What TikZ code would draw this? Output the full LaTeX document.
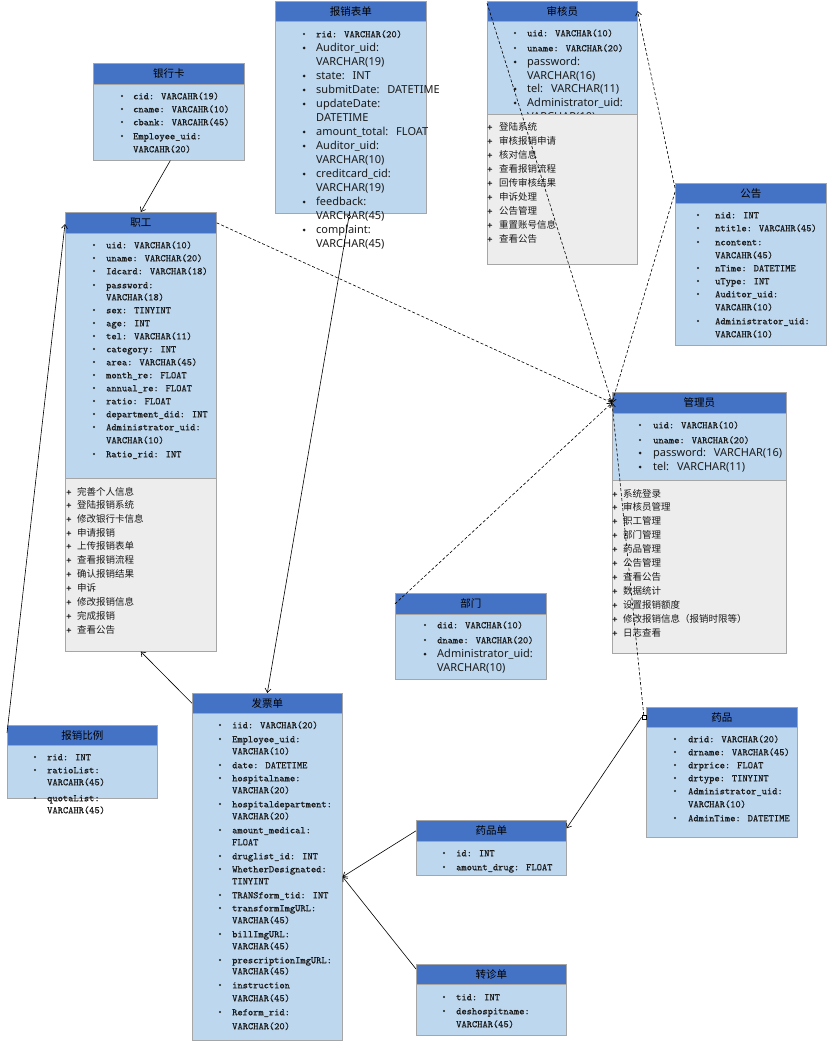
\documentclass[tikz,border=0pt]{standalone}
\usepackage{fontspec}
\setmainfont{Noto Sans}
\newfontfamily\cjk{Noto Sans CJK SC}
\newfontfamily\sansf{Noto Sans}
\newfontfamily\monof{lmmono10-regular.otf}[FakeBold=0.5]
\usetikzlibrary{arrows.meta}
\definecolor{hdrblue}{HTML}{4472C4}
\definecolor{attblue}{HTML}{BDD7EE}
\definecolor{mthgray}{HTML}{EDEDED}
\definecolor{bord}{HTML}{A6A6A6}
\definecolor{txt}{HTML}{1A1A1A}
\newcounter{tn}
\newcommand\Ent[7]{%
  \node[hdr, minimum width={(#4-#2)*1pt}, minimum height={(#5-#3)*1pt}, anchor=north west] (#1-h) at (#2,#3) {#7};
  \node[att, minimum width={(#4-#2)*1pt}, minimum height={(#6-#5)*1pt}, anchor=north west] (#1-a) at (#2,#5) {};}
\newcommand\Meth[5]{%
  \node[mth, minimum width={(#4-#2)*1pt}, minimum height={(#5-#3)*1pt}, anchor=north west] (#1-m) at (#2,#3) {};}
\newcommand\Bl[3]{\fill[txt] (#1,#2) circle (#3);}
\newcommand\Tx[4]{\stepcounter{tn}\node[#1] (t\arabic{tn}) at (#2,#3) {#4};}
\newcommand\Mb[4]{\Bl{#1}{#3}{1.1pt}\Tx{mono}{#2}{#3}{#4}}
\newcommand\Mc[3]{\Tx{mono}{#1}{#2}{#3}}
\newcommand\Sb[4]{\Bl{#1}{#3}{1.5pt}\Tx{sns}{#2}{#3}{#4}}
\newcommand\Sc[3]{\Tx{sns}{#1}{#2}{#3}}
\newcommand\Mt[4]{\Tx{mono}{#1}{#3}{+}\Tx{cn}{#2}{#3}{#4}}
\newcommand\fc{:\hspace{0.72em}}
\begin{document}
\begin{tikzpicture}[x=1pt,y=-1pt,
  hdr/.style={draw=bord, fill=hdrblue, line width=0.6pt, inner sep=0pt, font=\cjk\fontsize{10.5}{12}\selectfont, text=black},
  att/.style={draw=bord, fill=attblue, line width=0.6pt, inner sep=0pt},
  mth/.style={draw=bord, fill=mthgray, line width=0.6pt, inner sep=0pt},
  mono/.style={anchor=base west, inner sep=0pt, font=\monof\fontsize{10}{12}\selectfont, text=txt, yshift=-3.3pt},
  sns/.style={anchor=base west, inner sep=0pt, font=\sansf\fontsize{11}{13}\selectfont, text=txt, yshift=-3.9pt},
  cn/.style={anchor=base west, inner sep=0pt, font=\cjk\fontsize{9.5}{11}\selectfont, text=txt, yshift=-3.4pt},
  conn/.style={draw=black, line width=0.6pt, -{Straight Barb[length=4pt,width=6pt]}},
  dconn/.style={draw=black, line width=0.6pt, dash pattern=on 3pt off 2pt, -{Straight Barb[length=4pt,width=6pt]}}]
\fill[white] (0,0) rectangle (828,1046);
\useasboundingbox (0,0) rectangle (828,1046);

% 银行卡
\Ent{yhk}{93}{63}{244}{84}{160}{银行卡}
\Mb{122}{133}{96}{cid: VARCAHR(19)}
\Mb{122}{133}{109}{cname: VARCAHR(10)}
\Mb{122}{133}{122}{cbank: VARCAHR(45)}
\Mb{122}{133}{136}{Employee\_uid:}
\Mc{133}{149}{VARCAHR(20)}

% 报销表单
\Ent{bxbd}{275}{1}{426}{21}{213}{报销表单}
\Mb{304}{316}{34}{rid: VARCHAR(20)}
\Sb{304}{316}{48}{Auditor\_uid:}
\Sc{316}{62}{VARCHAR(19)}
\Sb{304}{316}{76}{state\fc INT}
\Sb{304}{316}{90}{submitDate\fc DATETIME}
\Sb{304}{316}{104}{updateDate:}
\Sc{316}{118}{DATETIME}
\Sb{304}{316}{132}{amount\_total\fc FLOAT}
\Sb{304}{316}{146}{Auditor\_uid:}
\Sc{316}{160}{VARCHAR(10)}
\Sb{304}{316}{174}{creditcard\_cid:}
\Sc{316}{188}{VARCHAR(19)}
\Sb{304}{316}{202}{feedback:}
\Sc{316}{216}{VARCHAR(45)}
\Sb{304}{316}{230}{complaint:}
\Sc{316}{244}{VARCHAR(45)}

% 审核员
\Ent{shy}{487}{1}{637}{21}{114}{审核员}
\Mb{515}{527}{33}{uid: VARCHAR(10)}
\Mb{515}{527}{48}{uname: VARCHAR(20)}
\Sb{515}{527}{62}{password:}
\Sc{527}{76}{VARCHAR(16)}
\Sb{515}{527}{89}{tel\fc VARCHAR(11)}
\Sb{515}{527}{103}{Administrator\_uid:}
\Sc{527}{117}{VARCHAR(10)}
\Meth{shy}{487}{114}{637}{264}
\Mt{487}{499}{127}{登陆系统}
\Mt{487}{499}{141}{审核报销申请}
\Mt{487}{499}{155}{核对信息}
\Mt{487}{499}{169}{查看报销流程}
\Mt{487}{499}{183}{回传审核结果}
\Mt{487}{499}{197}{申诉处理}
\Mt{487}{499}{211}{公告管理}
\Mt{487}{499}{225}{重置账号信息}
\Mt{487}{499}{239}{查看公告}

% 公告
\Ent{gg}{675}{183}{826}{203}{345}{公告}
\Mb{698}{715}{215}{nid: INT}
\Mb{698}{715}{228}{ntitle: VARCAHR(45)}
\Mb{698}{715}{242}{ncontent:}
\Mc{715}{255}{VARCAHR(45)}
\Mb{698}{715}{268}{nTime: DATETIME}
\Mb{698}{715}{281}{uType: INT}
\Mb{698}{715}{294}{Auditor\_uid:}
\Mc{715}{307}{VARCAHR(10)}
\Mb{698}{715}{321}{Administrator\_uid:}
\Mc{715}{334}{VARCAHR(10)}

% 职工
\Ent{zg}{65}{212}{216}{233}{478}{职工}
\Mb{94}{106}{245}{uid: VARCHAR(10)}
\Mb{94}{106}{258}{uname: VARCHAR(20)}
\Mb{94}{106}{271}{Idcard: VARCHAR(18)}
\Mb{94}{106}{285}{password:}
\Mc{106}{297}{VARCHAR(18)}
\Mb{94}{106}{310}{sex: TINYINT}
\Mb{94}{106}{323}{age: INT}
\Mb{94}{106}{336}{tel: VARCHAR(11)}
\Mb{94}{106}{349}{category: INT}
\Mb{94}{106}{362}{area: VARCHAR(45)}
\Mb{94}{106}{375}{month\_re: FLOAT}
\Mb{94}{106}{388}{annual\_re: FLOAT}
\Mb{94}{106}{401}{ratio: FLOAT}
\Mb{94}{106}{414}{department\_did: INT}
\Mb{94}{106}{427}{Administrator\_uid:}
\Mc{106}{440}{VARCHAR(10)}
\Mb{94}{106}{454}{Ratio\_rid: INT}
\Meth{zg}{65}{478}{216}{651}
\Mt{66}{77}{492}{完善个人信息}
\Mt{66}{77}{505}{登陆报销系统}
\Mt{66}{77}{519}{修改银行卡信息}
\Mt{66}{77}{533}{申请报销}
\Mt{66}{77}{546}{上传报销表单}
\Mt{66}{77}{560}{查看报销流程}
\Mt{66}{77}{574}{确认报销结果}
\Mt{66}{77}{588}{申诉}
\Mt{66}{77}{602}{修改报销信息}
\Mt{66}{77}{616}{完成报销}
\Mt{66}{77}{630}{查看公告}

% 管理员
\Ent{gly}{612}{392}{786}{413}{480}{管理员}
\Mb{640}{653}{425}{uid: VARCHAR(10)}
\Mb{640}{653}{440}{uname: VARCHAR(20)}
\Sb{640}{653}{453}{password\fc VARCHAR(16)}
\Sb{640}{653}{467}{tel\fc VARCHAR(11)}
\Meth{gly}{612}{480}{786}{653}
\Mt{612}{623}{494}{系统登录}
\Mt{612}{623}{507}{审核员管理}
\Mt{612}{623}{521}{职工管理}
\Mt{612}{623}{535}{部门管理}
\Mt{612}{623}{549}{药品管理}
\Mt{612}{623}{563}{公告管理}
\Mt{612}{623}{577}{查看公告}
\Mt{612}{623}{591}{数据统计}
\Mt{612}{623}{605}{设置报销额度}
\Mt{612}{623}{619}{修改报销信息（报销时限等）}
\Mt{612}{623}{633}{日志查看}

% 部门
\Ent{bm}{395}{593}{546}{614}{679}{部门}
\Mb{425}{437}{625}{did: VARCHAR(10)}
\Mb{425}{437}{640}{dname: VARCHAR(20)}
\Sb{425}{437}{654}{Administrator\_uid:}
\Sc{437}{668}{VARCHAR(10)}

% 药品
\Ent{yp}{646}{707}{797}{727}{837}{药品}
\Mb{675}{688}{739}{drid: VARCHAR(20)}
\Mb{675}{688}{752}{drname: VARCHAR(45)}
\Mb{675}{688}{765}{drprice: FLOAT}
\Mb{675}{688}{778}{drtype: TINYINT}
\Mb{675}{688}{791}{Administrator\_uid:}
\Mc{688}{804}{VARCHAR(10)}
\Mb{675}{688}{818}{AdminTime: DATETIME}

% 发票单
\Ent{fpd}{192}{693}{342}{713}{1040}{发票单}
\Mb{220}{232}{725}{iid: VARCHAR(20)}
\Mb{220}{232}{739}{Employee\_uid:}
\Mc{232}{751}{VARCHAR(10)}
\Mb{220}{232}{765}{date: DATETIME}
\Mb{220}{232}{778}{hospitalname:}
\Mc{232}{790}{VARCHAR(20)}
\Mb{220}{232}{804}{hospitaldepartment:}
\Mc{232}{816}{VARCHAR(20)}
\Mb{220}{232}{830}{amount\_medical:}
\Mc{232}{842}{FLOAT}
\Mb{220}{232}{856}{druglist\_id: INT}
\Mb{220}{232}{869}{WhetherDesignated:}
\Mc{232}{881}{TINYINT}
\Mb{220}{232}{895}{TRANSform\_tid: INT}
\Mb{220}{232}{908}{transformImgURL:}
\Mc{232}{920}{VARCHAR(45)}
\Mb{220}{232}{934}{billImgURL:}
\Mc{232}{946}{VARCHAR(45)}
\Mb{220}{232}{960}{prescriptionImgURL:}
\Mc{232}{971}{VARCHAR(45)}
\Mb{220}{232}{985}{instruction}
\Mc{232}{998}{VARCHAR(45)}
\Mb{220}{232}{1012}{Reform\_rid:}
\Mc{232}{1026}{VARCHAR(20)}

% 报销比例
\Ent{bxbl}{7}{725}{157}{745}{798}{报销比例}
\Mb{35}{47}{757}{rid: INT}
\Mb{35}{47}{770}{ratioList:}
\Mc{47}{782}{VARCAHR(45)}
\Mb{35}{47}{798}{quotaList:}
\Mc{47}{810}{VARCAHR(45)}

% 药品单
\Ent{ypd}{416}{820}{566}{841}{875}{药品单}
\Mb{444}{456}{853}{id: INT}
\Mb{444}{456}{867}{amount\_drug: FLOAT}

% 转诊单
\Ent{zzd}{416}{964}{566}{984}{1035}{转诊单}
\Mb{444}{456}{997}{tid: INT}
\Mb{444}{456}{1011}{deshospitname:}
\Mc{456}{1024}{VARCHAR(45)}

% connectors
\node[draw=black, fill=white, line width=0.5pt, minimum size=4pt, inner sep=0pt, anchor=east] (sq) at (yp-h.west) {};
\draw[conn] ([xshift=1.5pt]yhk-a.south) -- (zg-h.north);
\draw[conn] ([yshift=-8pt]bxbl-h.north west) -- ([yshift=-12pt]zg-h.north west);
\draw[dconn] (zg-h.east) -- (gly-h.west);
\draw[dconn] ([yshift=-2pt]shy-h.north west) -- (gly-h.west);
\draw[dconn] ([yshift=-9pt]gg-h.north west) -- (gly-h.west);
\draw[dconn] ([yshift=-5pt]gg-h.north west) -- ([yshift=-10pt]shy-h.north east);
\draw[dconn] (bm-h.west) -- (gly-h.west);
\draw[dconn] (sq.north) -- (gly-h.west);
\draw[conn] (sq.west) -- ([yshift=2.5pt]ypd-h.east);
\draw[conn] (ypd-h.west) -- (fpd-a.east);
\draw[conn] ([yshift=-5pt]zzd-h.north west) -- (fpd-a.east);
\draw[line width=0.6pt, {Circle[open,length=4pt,width=4pt,fill=white]}-{Straight Barb[length=4pt,width=6pt]}] ([xshift=-1.5pt,yshift=-1pt]bxbd-a.south) -- (fpd-h.north);
\draw[conn] (fpd-h.west) -- (zg-m.south);
\end{tikzpicture}
\end{document}
